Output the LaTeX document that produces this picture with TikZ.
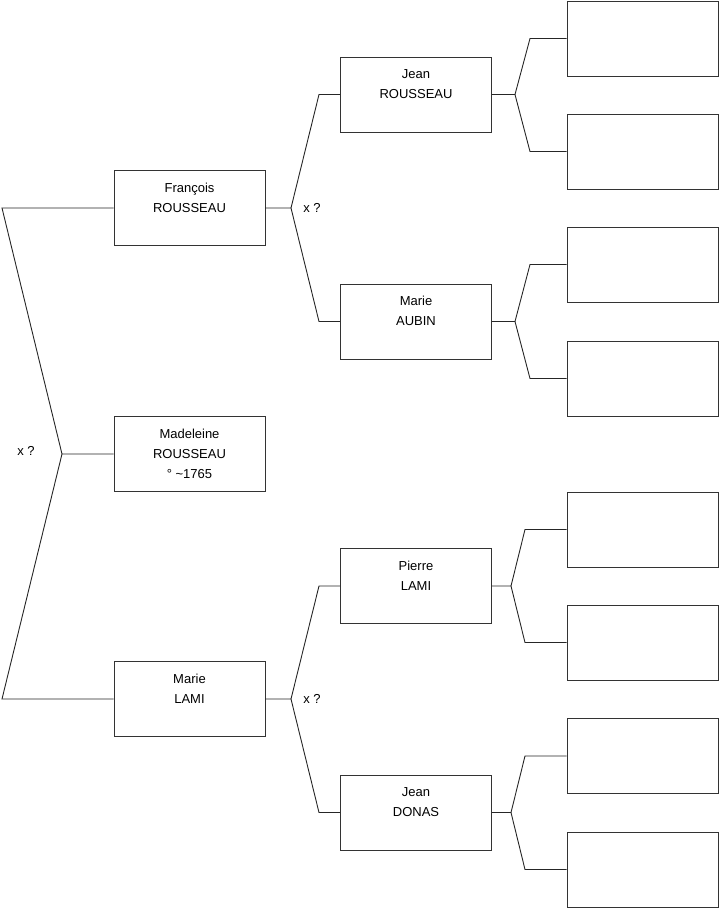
\documentclass[tikz,border=0pt]{standalone}
\usepackage{fontspec}
\setmainfont{Liberation Sans}
\usetikzlibrary{positioning}

\begin{document}
\begin{tikzpicture}[
    x=1pt, y=-1pt,
    every node/.style={font=\fontsize{13}{20}\selectfont},
    box/.style={draw=black!80, line width=0.9pt, minimum width=151pt, minimum height=75pt, inner sep=0pt},
    txt/.style={anchor=north, yshift=-12.5pt, align=center, inner sep=0pt, execute at begin node=\strut},
    person/.style={box, label={[txt]north:{#1}}},
    link/.style={draw=black!85, line width=0.9pt}
]
\useasboundingbox (0,0) rectangle (719,908);

% Generation 1 and 2
\node[person={François\\ROUSSEAU}] (francois) at (189.5,208) {};
\node[person={Madeleine\\ROUSSEAU\\°\ \textasciitilde1765}] (madeleine) at (189.5,454) {};
\node[person={Marie\\LAMI}] (marie) at (189.5,699) {};

% Generation 3
\node[person={Jean\\ROUSSEAU}] (jean) at (416,94.5) {};
\node[person={Marie\\AUBIN}] (aubin) at (416,321.5) {};
\node[person={Pierre\\LAMI}] (pierre) at (416,586) {};
\node[person={Jean\\DONAS}] (donas) at (416,812.5) {};

% Generation 4 (empty)
\foreach \n/\y in {a/38.5,b/151.5,c/264.5,d/378.5,e/529.5,f/642.5,g/756,h/869.5}
    \node[box] (g\n) at (642.5,\y) {};

% Parents of Madeleine
\coordinate (kroot) at (62,454);
\draw[link] (madeleine.west) -- (kroot) -- (2,208) -- (francois.west);
\draw[link] (kroot) -- (2,699) -- (marie.west);
\node (xroot) at (26,451) {x ?};

% Parents of Francois and Marie
\foreach \p/\y/\u/\uy/\d/\dy in {francois/208/jean/94.5/aubin/321.5, marie/699/pierre/586/donas/812.5}
{
    \coordinate (k\p) at (291,\y);
    \draw[link] (\p.east) -- (k\p) -- (319,\uy) -- (\u.west);
    \draw[link] (k\p) -- (319,\dy) -- (\d.west);
    \node (x\p) at (312,\y) {x ?};
}

% Last generation
\foreach \p/\y/\u/\uy/\d/\dy/\fx/\cx in {
    jean/94.5/ga/38.5/gb/151.5/515/530,
    aubin/321.5/gc/264.5/gd/378.5/515/530,
    pierre/586/ge/529.5/gf/642.5/511/525,
    donas/812.5/gg/756/gh/869.5/511/525}
{
    \coordinate (k\p) at (\fx,\y);
    \draw[link] (\p.east) -- (k\p) -- (\cx,\uy) -- (\u.west);
    \draw[link] (k\p) -- (\cx,\dy) -- (\d.west);
}
\end{tikzpicture}
\end{document}
